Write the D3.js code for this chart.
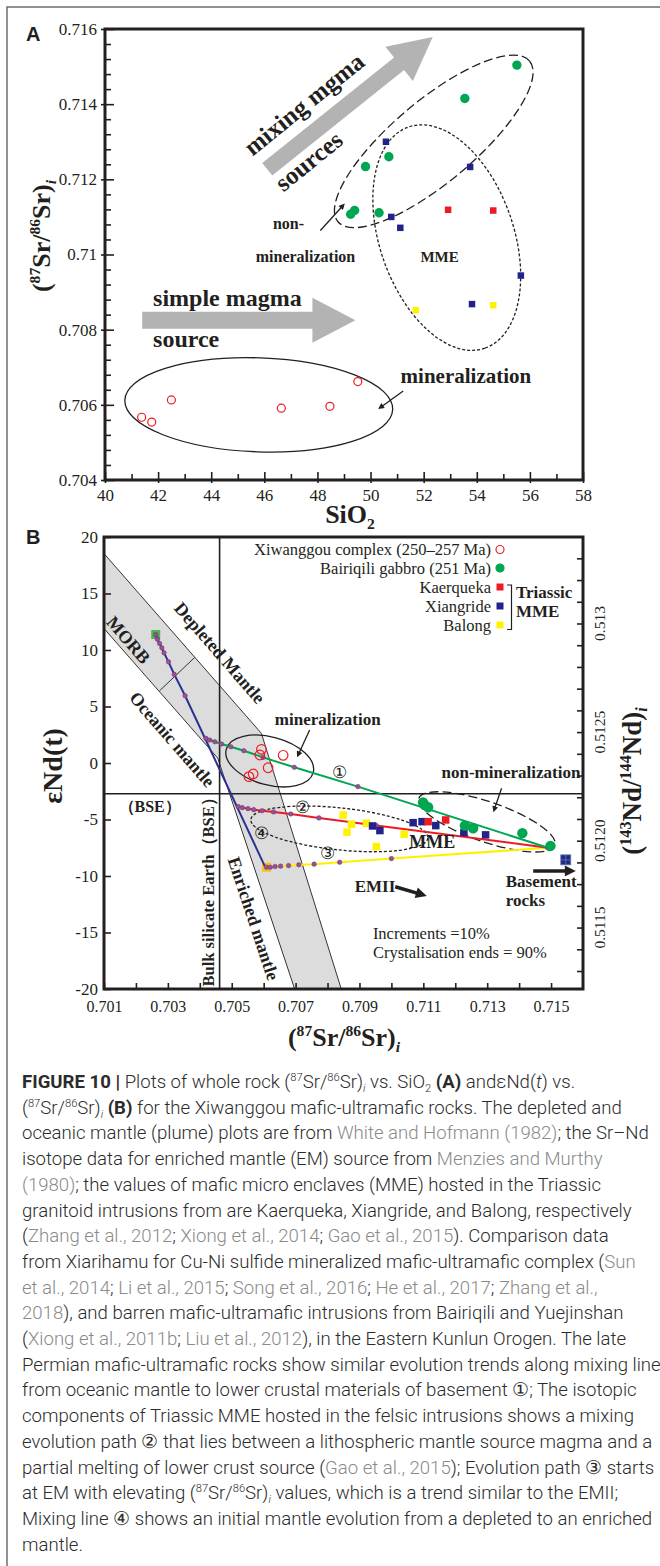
<!DOCTYPE html>
<html>
<head>
<meta charset="utf-8">
<script src="https://cdn.jsdelivr.net/npm/d3@7"></script>
<style>
body { margin: 0; background: #fff; }
svg { display: block; }
</style>
</head>
<body>
<div id="chart"></div>
<script>
// ---------- panel A : SiO2 vs (87Sr/86Sr)i ----------
var xiwanggouA = [[41.38, 0.70567], [41.76, 0.70554], [42.5, 0.70613], [46.64, 0.70591], [48.47, 0.70596], [49.52, 0.70662]];
var bairiqiliA = [[55.51, 0.71504], [53.55, 0.71415], [50.69, 0.7126], [49.81, 0.71234], [49.40, 0.71117], [49.25, 0.71107], [50.32, 0.71111]];
var kaerquekaA = [[52.92, 0.71119], [54.62, 0.71117]];
var xiangrideA = [[50.58, 0.713], [53.75, 0.71233], [50.78, 0.711], [51.12, 0.71071], [55.66, 0.70944], [53.82, 0.70868]];
var balongA = [[51.70, 0.70852], [54.62, 0.70865]];

// ---------- panel B : (87Sr/86Sr)i vs eNd(t) ----------
var xiwanggouB = [[0.70593, 1.21], [0.70588, 0.71], [0.70661, 0.68], [0.70614, -0.42], [0.70567, -0.97], [0.70554, -1.21]];
var bairiqiliB = [[0.71099, -3.5], [0.71104, -3.71], [0.71115, -3.92], [0.7123, -5.54], [0.71256, -5.77], [0.7141, -6.21], [0.71498, -7.34]];
var kaerquekaB = [[0.71115, -5.19], [0.7117, -5.04]];
var xiangrideB = [[0.70941, -5.57], [0.70964, -5.98], [0.71068, -5.28], [0.71096, -5.19], [0.71139, -5.54], [0.71227, -6.16], [0.71295, -6.36]];
var balongB = [[0.70849, -4.6], [0.70875, -5.42], [0.70861, -6.12], [0.70922, -5.33], [0.7104, -6.3], [0.70953, -7.4]];
var basementB = [[0.71546, -8.57]];

// mixing / evolution paths (points = 10% increments)
var path1 = [[0.70419, 2.18], [0.70431, 2.03], [0.70447, 1.88], [0.70468, 1.68], [0.70497, 1.44], [0.70538, 1.09], [0.70598, 0.50], [0.70696, -0.38], [0.70895, -2.09], [0.7149, -7.5]];
var path2 = [[0.7052, -3.86], [0.70533, -3.95], [0.70551, -4.04], [0.70569, -4.13], [0.70595, -4.22], [0.70631, -4.33], [0.70685, -4.51], [0.70773, -4.86], [0.70953, -5.54], [0.7149, -7.5]];
var path3 = [[0.70609, -9.22], [0.70621, -9.22], [0.70636, -9.16], [0.70653, -9.13], [0.70678, -9.08], [0.7071, -9.01], [0.70758, -8.95], [0.70838, -8.78], [0.71, -8.46], [0.7149, -7.5]];
var path4 = [[0.70262, 11.37], [0.70267, 10.96], [0.70274, 10.58], [0.70281, 10.19], [0.70288, 9.75], [0.70302, 8.95], [0.7032, 7.84], [0.70354, 5.95], [0.70603, -9.1]];
var path4Dots = path4.slice(0, 8);
var morbEnd = [0.70262, 11.37];
var emEnd = [0.70609, -9.22];

// mantle array (grey band) and the MORB / oceanic divider
var mantleBand = [[0.701, 18.53], [0.70593, 2.62], [0.70843, -20], [0.70697, -20], [0.70456, 0.44], [0.701, 11.9]];
var bandDivider = [[0.70274, 6.39], [0.70384, 9.34]];
var bseSr = 0.70462;
var bseNd = -2.72;

// tick labels
var tickAx = [40, 42, 44, 46, 48, 50, 52, 54, 56, 58];
var tickAy = [0.704, 0.706, 0.708, 0.71, 0.712, 0.714, 0.716];
var tickBx = [0.701, 0.703, 0.705, 0.707, 0.709, 0.711, 0.713, 0.715];
var tickBy = [20, 15, 10, 5, 0, -5, -10, -15, -20];
var tickBr = [0.513, 0.5125, 0.512, 0.5116];
var tickBrText = ["0.513", "0.5125", "0.5120", "0.5115"];

var captionLines = [
  "**FIGURE 10 |** Plots of whole rock (^87^Sr/^86^Sr)_i_ vs. SiO~2~ **(A)** andεNd(*t*) vs.",
  "(^87^Sr/^86^Sr)_i_ **(B)** for the Xiwanggou mafic-ultramafic rocks. The depleted and",
  "oceanic mantle (plume) plots are from [White and Hofmann (1982)]; the Sr–Nd",
  "isotope data for enriched mantle (EM) source from [Menzies and Murthy]",
  "[(1980)]; the values of mafic micro enclaves (MME) hosted in the Triassic",
  "granitoid intrusions from are Kaerqueka, Xiangride, and Balong, respectively",
  "([Zhang et al., 2012]; [Xiong et al., 2014]; [Gao et al., 2015]). Comparison data",
  "from Xiarihamu for Cu-Ni sulfide mineralized mafic-ultramafic complex ([Sun]",
  "[et al., 2014]; [Li et al., 2015]; [Song et al., 2016]; [He et al., 2017]; [Zhang et al.,]",
  "[2018]), and barren mafic-ultramafic intrusions from Bairiqili and Yuejinshan",
  "([Xiong et al., 2011b]; [Liu et al., 2012]), in the Eastern Kunlun Orogen. The late",
  "Permian mafic-ultramafic rocks show similar evolution trends along mixing line",
  "from oceanic mantle to lower crustal materials of basement ①; The isotopic",
  "components of Triassic MME hosted in the felsic intrusions shows a mixing",
  "evolution path ② that lies between a lithospheric mantle source magma and a",
  "partial melting of lower crust source ([Gao et al., 2015]); Evolution path ③ starts",
  "at EM with elevating (^87^Sr/^86^Sr)_i_ values, which is a trend similar to the EMII;",
  "Mixing line ④ shows an initial mantle evolution from a depleted to an enriched",
  "mantle."
];

var ink = "#231f20";
var red = "#ed1c24", green = "#00a651", navy = "#23228a", yellow = "#fff200";

var svg = d3.select("#chart").append("svg")
    .attr("width", 660)
    .attr("height", 1566)
    .style("font-family", "'Liberation Serif', 'Times New Roman', serif");

// figure frame (left and top only are visible)
svg.append("path").attr("d", "M7,1566V7H660").attr("fill", "none").attr("stroke", "#6d6d6d").attr("stroke-width", 1.5);

var defs = svg.append("defs");
function marker(id, len, wid) {
    defs.append("marker").attr("id", id)
        .attr("viewBox", "0 0 10 10").attr("refX", 4).attr("refY", 5)
        .attr("markerWidth", len).attr("markerHeight", wid)
        .attr("markerUnits", "userSpaceOnUse").attr("orient", "auto")
        .append("path").attr("d", "M0,0L10,5L0,10Z").attr("fill", ink);
}
marker("headS", 8, 6);
marker("headL", 15, 11);

// rich text: **bold**, ^sup^, ~sub~, _italic sub_, *italic*, [grey]
function richText(textSel, str, size) {
    var re = /(\*\*[^*]+\*\*|\^[^^]+\^|_[^_]+_|~[^~]+~|\*[^*]+\*|\[[^\]]+\])/;
    var parts = str.split(re).filter(function (p) { return p.length; });
    var shift = 0;
    parts.forEach(function (p) {
        var kind = "n", t = p;
        if (p.slice(0, 2) == "**") { kind = "b"; t = p.slice(2, -2); }
        else if (p[0] == "^") { kind = "sup"; t = p.slice(1, -1); }
        else if (p[0] == "_") { kind = "isub"; t = p.slice(1, -1); }
        else if (p[0] == "~") { kind = "sub"; t = p.slice(1, -1); }
        else if (p[0] == "*") { kind = "i"; t = p.slice(1, -1); }
        else if (p[0] == "[") { kind = "g"; t = p.slice(1, -1); }
        var target = kind == "sup" ? -0.38 * size : (kind == "sub" || kind == "isub") ? 0.22 * size : 0;
        var ts = textSel.append("tspan").text(t).attr("dy", target - shift);
        shift = target;
        if (kind == "sup" || kind == "sub" || kind == "isub") ts.style("font-size", (0.6 * size) + "px");
        if (kind == "b") ts.style("font-weight", "bold");
        if (kind == "i" || kind == "isub") ts.style("font-style", "italic");
        if (kind == "g") ts.attr("fill", "#8a8a8a");
    });
}

function bigArrow(g, p0, p1, shaft, headW, headL) {
    var dx = p1[0] - p0[0], dy = p1[1] - p0[1], L = Math.hypot(dx, dy);
    var ux = dx / L, uy = dy / L, nx = -uy, ny = ux, b = L - headL;
    var pts = [[0, -shaft / 2], [b, -shaft / 2], [b, -headW / 2], [L, 0], [b, headW / 2], [b, shaft / 2], [0, shaft / 2]]
        .map(function (q) { return [p0[0] + ux * q[0] + nx * q[1], p0[1] + uy * q[0] + ny * q[1]]; });
    g.append("polygon").attr("points", pts.join(" ")).attr("fill", "#b3b3b3");
}

function lineArrow(g, p0, p1, width, head, headLen) {
    var dx = p1[0] - p0[0], dy = p1[1] - p0[1], L = Math.hypot(dx, dy);
    var k = (L - 0.6 * headLen) / L;
    g.append("line").attr("x1", p0[0]).attr("y1", p0[1])
        .attr("x2", p0[0] + dx * k).attr("y2", p0[1] + dy * k)
        .attr("stroke", ink).attr("stroke-width", width)
        .attr("marker-end", "url(#" + head + ")");
}

function drawEllipses(g, list, sx, sy) {
    list.forEach(function (e) {
        g.append("ellipse")
            .attr("transform", "translate(" + sx(e.cx) + "," + sy(e.cy) + ") rotate(" + e.rot + ")")
            .attr("rx", e.rx).attr("ry", e.ry)
            .attr("fill", "none").attr("stroke", ink).attr("stroke-width", 1.3)
            .attr("stroke-dasharray", e.dash);
    });
}

function drawNotes(g, list, sx, sy) {
    list.forEach(function (n) {
        g.append("text")
            .attr("transform", "translate(" + sx(n.x) + "," + sy(n.y) + ") rotate(" + (n.rot || 0) + ")")
            .attr("dy", n.mid ? "0.35em" : null)
            .attr("text-anchor", n.anchor || "start")
            .style("font-size", n.size + "px")
            .style("font-weight", n.bold === false ? "normal" : "bold")
            .attr("fill", ink)
            .text(n.t);
    });
}

function drawPoints(g, data, sx, sy, kind, color, size) {
    var sel = g.append("g").selectAll(null).data(data).enter();
    if (kind == "square") {
        sel.append("rect")
            .attr("x", function (d) { return sx(d[0]) - size / 2; })
            .attr("y", function (d) { return sy(d[1]) - size / 2; })
            .attr("width", size).attr("height", size)
            .attr("fill", color);
    } else {
        sel.append("circle")
            .attr("cx", function (d) { return sx(d[0]); })
            .attr("cy", function (d) { return sy(d[1]); })
            .attr("r", size)
            .attr("fill", kind == "open" ? "none" : color)
            .attr("stroke", color).attr("stroke-width", kind == "open" ? 1.2 : 0);
    }
}

function styleAxis(sel, size) {
    sel.select(".domain").remove();
    sel.selectAll("line").attr("stroke", ink).attr("stroke-width", 1.6);
    sel.selectAll("text").attr("fill", ink).style("font-size", size + "px").style("font-family", "'Liberation Serif', serif");
}

// =================== PANEL A ===================
var xA = d3.scaleLinear().domain([40, 58]).range([105, 583]);
var yA = d3.scaleLinear().domain([0.704, 0.716]).range([480, 29]);
var gA = svg.append("g");

bigArrow(gA, [xA(46.11), yA(0.712267)], [xA(52.34), yA(0.715787)], 16, 44, 43);
bigArrow(gA, [xA(41.40), yA(0.708253)], [xA(49.43), yA(0.708253)], 17, 45, 43);

drawEllipses(gA, [
    { cx: 45.79, cy: 0.706, rx: 134, ry: 47, rot: 2, dash: null },
    { cx: 52.38, cy: 0.71301, rx: 125, ry: 41, rot: -40, dash: "9,4" },
    { cx: 52.87, cy: 0.71045, rx: 117, ry: 67, rot: 71, dash: "3,2" }
], xA, yA);

lineArrow(gA, [xA(48.11), yA(0.71064)], [xA(49.06), yA(0.71138)], 1.3, "headS", 8);
lineArrow(gA, [xA(51.23), yA(0.70637)], [xA(50.25), yA(0.70587)], 1.3, "headS", 8);

drawPoints(gA, xiwanggouA, xA, yA, "open", red, 4);
drawPoints(gA, bairiqiliA, xA, yA, "filled", green, 4.7);
drawPoints(gA, kaerquekaA, xA, yA, "square", red, 6.5);
drawPoints(gA, xiangrideA, xA, yA, "square", navy, 6.5);
drawPoints(gA, balongA, xA, yA, "square", yellow, 6.5);

drawNotes(gA, [
    { t: "mixing mgma", x: 45.55, y: 0.7126, size: 25, rot: -39 },
    { t: "sources", x: 46.72, y: 0.71165, size: 25, rot: -39 },
    { t: "simple magma", x: 41.81, y: 0.70862, size: 24 },
    { t: "source", x: 41.81, y: 0.70755, size: 24 },
    { t: "mineralization", x: 51.13, y: 0.70659, size: 21 },
    { t: "non-", x: 46.91, y: 0.71067, size: 16, anchor: "middle" },
    { t: "mineralization", x: 47.55, y: 0.70981, size: 16, anchor: "middle" },
    { t: "MME", x: 52.6, y: 0.70979, size: 15, anchor: "middle" }
], xA, yA);

// axes A
var axA = gA.append("g").attr("transform", "translate(0,480)");
axA.call(d3.axisBottom(xA).tickValues(tickAx).tickSize(-8).tickPadding(9).tickFormat(d3.format("d")));
styleAxis(axA, 17);
var axAo = gA.append("g").attr("transform", "translate(0,480)")
    .call(d3.axisBottom(xA).tickValues(tickAx).tickSize(3).tickFormat(""));
styleAxis(axAo, 17);
var axAm = gA.append("g").attr("transform", "translate(0,480)")
    .call(d3.axisBottom(xA).tickValues(d3.range(41, 58, 2)).tickSize(-6).tickFormat(""));
styleAxis(axAm, 17);

var ayA = gA.append("g").attr("transform", "translate(105,0)");
ayA.call(d3.axisLeft(yA).tickValues(tickAy).tickSize(-9).tickPadding(8).tickFormat(function (d) { return String(+d.toFixed(3)); }));
styleAxis(ayA, 17);
var ayAo = gA.append("g").attr("transform", "translate(105,0)")
    .call(d3.axisLeft(yA).tickValues(tickAy).tickSize(4).tickFormat(""));
styleAxis(ayAo, 17);
var ayAm = gA.append("g").attr("transform", "translate(105,0)")
    .call(d3.axisLeft(yA).tickValues(d3.range(0.7044, 0.716, 0.0004).filter(function (v) { return Math.abs(v * 500 - Math.round(v * 500)) > 0.01; })).tickSize(-6).tickFormat(""));
styleAxis(ayAm, 17);

gA.append("rect").attr("x", 105).attr("y", 29).attr("width", 478).attr("height", 451)
    .attr("fill", "none").attr("stroke", ink).attr("stroke-width", 3);

var tA = gA.append("text").attr("x", 350).attr("y", 523).attr("text-anchor", "middle")
    .style("font-size", "26px").style("font-weight", "bold").attr("fill", ink);
richText(tA, "SiO~2~", 26);
var tAy = gA.append("text").attr("transform", "translate(50,236) rotate(-90)").attr("text-anchor", "middle")
    .style("font-size", "26px").style("font-weight", "bold").attr("fill", ink);
richText(tAy, "(^87^Sr/^86^Sr)_i_", 26);

svg.append("text").attr("x", 26).attr("y", 41).text("A")
    .style("font-family", "'Liberation Sans', Arial, sans-serif").style("font-weight", "bold").style("font-size", "20px").attr("fill", ink);

// =================== PANEL B ===================
var xB = d3.scaleLinear().domain([0.701, 0.716]).range([104, 583]);
var yB = d3.scaleLinear().domain([-20, 20]).range([989, 537]);
var yBr = d3.scaleLinear().domain([0.5113172, 0.5133982]).range([989, 537]);
var gB = svg.append("g");

var lineB = d3.line().x(function (d) { return xB(d[0]); }).y(function (d) { return yB(d[1]); });

gB.append("path").datum(mantleBand).attr("d", function (d) { return lineB(d) + "Z"; })
    .attr("fill", "#dcdcdc").attr("stroke", ink).attr("stroke-width", 0.9);
gB.append("path").datum(bandDivider).attr("d", lineB).attr("stroke", ink).attr("stroke-width", 0.9);

// BSE reference lines
gB.append("line").attr("x1", xB(bseSr)).attr("x2", xB(bseSr)).attr("y1", yB(20)).attr("y2", yB(-20))
    .attr("stroke", ink).attr("stroke-width", 1.6);
gB.append("line").attr("x1", xB(0.701)).attr("x2", xB(0.716)).attr("y1", yB(bseNd)).attr("y2", yB(bseNd))
    .attr("stroke", ink).attr("stroke-width", 1.6);

drawEllipses(gB, [
    { cx: 0.70619, cy: 0.18, rx: 45, ry: 24, rot: 15, dash: null },
    { cx: 0.71299, cy: -5.21, rx: 72, ry: 20, rot: 19, dash: "9,4" },
    { cx: 0.70837, cy: -5.83, rx: 89, ry: 21, rot: 6, dash: "3,2" }
], xB, yB);

// end-member squares
drawPoints(gB, [morbEnd], xB, yB, "square", "#4cb848", 9);
drawPoints(gB, [emEnd], xB, yB, "square", "#f9c21b", 9);

[[path3, "#fff000"], [path2, red], [path1, green], [path4, "#2b3192"]].forEach(function (p) {
    gB.append("path").datum(p[0]).attr("d", lineB).attr("fill", "none")
        .attr("stroke", p[1]).attr("stroke-width", 2);
});
[path1, path2, path3, path4Dots].forEach(function (p) {
    gB.append("g").selectAll(null).data(p).enter().append("circle")
        .attr("cx", function (d) { return xB(d[0]); })
        .attr("cy", function (d) { return yB(d[1]); })
        .attr("r", 2.3).attr("fill", "#9a4f98").attr("stroke", "#5e2d5c").attr("stroke-width", 0.4);
});

drawPoints(gB, xiwanggouB, xB, yB, "open", red, 4.8);
drawPoints(gB, balongB, xB, yB, "square", yellow, 7.5);
drawPoints(gB, xiangrideB, xB, yB, "square", navy, 7.5);
drawPoints(gB, kaerquekaB, xB, yB, "square", red, 7.5);
drawPoints(gB, bairiqiliB, xB, yB, "filled", green, 5.2);

// basement rocks symbol
basementB.forEach(function (d) {
    var cx = xB(d[0]), cy = yB(d[1]);
    gB.append("rect").attr("x", cx - 5).attr("y", cy - 5).attr("width", 10).attr("height", 10)
        .attr("fill", "#1f2a78").attr("stroke", "#6a78c0").attr("stroke-width", 0.8);
    gB.append("path").attr("d", "M" + (cx - 5) + "," + cy + "H" + (cx + 5) + "M" + cx + "," + (cy - 5) + "V" + (cy + 5))
        .attr("stroke", "#6a78c0").attr("stroke-width", 0.8);
});

lineArrow(gB, [xB(0.70744), yB(2.92)], [xB(0.70703), yB(0.42)], 1.3, "headS", 8);
lineArrow(gB, [xB(0.71345), yB(-2.24)], [xB(0.71318), yB(-4.45)], 1.3, "headS", 8);
lineArrow(gB, [xB(0.71012), yB(-10.95)], [xB(0.71118), yB(-11.82)], 3.5, "headL", 15);
lineArrow(gB, [xB(0.71444), yB(-9.55)], [xB(0.71585), yB(-9.55)], 3.5, "headL", 15);

drawNotes(gB, [
    { t: "Depleted  Mantle", x: 0.70463, y: 9.75, size: 18, rot: 49, anchor: "middle", mid: true },
    { t: "MORB", x: 0.70177, y: 10.9, size: 18, rot: 49, anchor: "middle", mid: true },
    { t: "Oceanic  mantle", x: 0.70314, y: 2.1, size: 18, rot: 49, anchor: "middle", mid: true },
    { t: "Enriched  mantle", x: 0.70569, y: -13.76, size: 18, rot: 71.7, anchor: "middle", mid: true },
    { t: "Bulk silicate Earth（BSE）", x: 0.70444, y: -11.05, size: 16.5, rot: -90, anchor: "middle" },
    { t: "（BSE）", x: 0.70243, y: -4.3, size: 16, anchor: "middle" },
    { t: "mineralization", x: 0.70635, y: 3.36, size: 17 },
    { t: "non-mineralization", x: 0.71157, y: -1.33, size: 17 },
    { t: "MME", x: 0.71128, y: -7.54, size: 18, anchor: "middle" },
    { t: "EMII", x: 0.70885, y: -11.46, size: 17 },
    { t: "Basement", x: 0.71358, y: -10.93, size: 17 },
    { t: "rocks", x: 0.71358, y: -12.64, size: 17 },
    { t: "Increments =10%", x: 0.70942, y: -15.58, size: 16.5, bold: false },
    { t: "Crystalisation ends = 90%", x: 0.70942, y: -17.26, size: 16.5, bold: false },
    { t: "①", x: 0.70838, y: -0.77, size: 17, anchor: "middle", mid: true, bold: false },
    { t: "②", x: 0.70723, y: -3.86, size: 17, anchor: "middle", mid: true, bold: false },
    { t: "③", x: 0.70801, y: -7.95, size: 17, anchor: "middle", mid: true, bold: false },
    { t: "④", x: 0.70593, y: -6.16, size: 17, anchor: "middle", mid: true, bold: false }
], xB, yB);

// legend
var legend = [
    { t: "Xiwanggou complex (250–257 Ma)", kind: "open", color: red },
    { t: "Bairiqili gabbro (251 Ma)", kind: "filled", color: green },
    { t: "Kaerqueka", kind: "square", color: red },
    { t: "Xiangride", kind: "square", color: navy },
    { t: "Balong", kind: "square", color: yellow }
];
var legY = [555, 573.5, 592.5, 611.5, 630.5];
var gL = gB.append("g");
legend.forEach(function (d, i) {
    gL.append("text").attr("x", 491).attr("y", legY[i]).attr("text-anchor", "end")
        .style("font-size", "16.5px").attr("fill", ink).text(d.t);
    var cy = legY[i] - 5.5;
    if (d.kind == "square") {
        gL.append("rect").attr("x", 496.5).attr("y", cy - 3.5).attr("width", 7).attr("height", 7).attr("fill", d.color);
    } else {
        gL.append("circle").attr("cx", 500).attr("cy", cy).attr("r", 4)
            .attr("fill", d.kind == "open" ? "none" : d.color).attr("stroke", d.color).attr("stroke-width", 1.2);
    }
});
gL.append("path").attr("d", "M507,585H511.5V629.5H507").attr("fill", "none").attr("stroke", ink).attr("stroke-width", 1.2);
gL.append("text").attr("x", 516).attr("y", 597.5).style("font-size", "17px").style("font-weight", "bold").attr("fill", ink).text("Triassic");
gL.append("text").attr("x", 516).attr("y", 617).style("font-size", "17px").style("font-weight", "bold").attr("fill", ink).text("MME");

// axes B
var axB = gB.append("g").attr("transform", "translate(0,989)");
axB.call(d3.axisBottom(xB).tickValues(tickBx).tickSize(-6).tickPadding(12).tickFormat(d3.format(".3f")));
styleAxis(axB, 16);
var axBm = gB.append("g").attr("transform", "translate(0,989)")
    .call(d3.axisBottom(xB).tickValues(d3.range(0.702, 0.7155, 0.002)).tickSize(-6).tickFormat(""));
styleAxis(axBm, 16);

var ayB = gB.append("g").attr("transform", "translate(104,0)");
ayB.call(d3.axisLeft(yB).tickValues(tickBy).tickSize(-7).tickPadding(6).tickFormat(d3.format("d")));
styleAxis(ayB, 17);
ayB.selectAll("text").text(function (d) { return String(d); });

var ayBr = gB.append("g").attr("transform", "translate(583,0)");
ayBr.call(d3.axisRight(yBr).tickValues(d3.range(0.5114, 0.51335, 0.0001)).tickSize(-6).tickFormat(""));
styleAxis(ayBr, 15);
tickBr.forEach(function (v, i) {
    gB.append("text").attr("transform", "translate(605," + yBr(v) + ") rotate(-90)")
        .attr("text-anchor", "middle").style("font-size", "15.5px").attr("fill", ink).text(tickBrText[i]);
});

gB.append("rect").attr("x", 104).attr("y", 537).attr("width", 479).attr("height", 452)
    .attr("fill", "none").attr("stroke", ink).attr("stroke-width", 3);

var tBx = gB.append("text").attr("x", 344).attr("y", 1046).attr("text-anchor", "middle")
    .style("font-size", "26px").style("font-weight", "bold").attr("fill", ink);
richText(tBx, "(^87^Sr/^86^Sr)_i_", 26);
var tBy = gB.append("text").attr("transform", "translate(62,766) rotate(-90)").attr("text-anchor", "middle")
    .style("font-size", "28px").style("font-weight", "bold").attr("fill", ink);
richText(tBy, "εNd(t)", 28);
var tBr = gB.append("text").attr("transform", "translate(641,781) rotate(-90)").attr("text-anchor", "middle")
    .style("font-size", "27px").style("font-weight", "bold").attr("fill", ink);
richText(tBr, "(^143^Nd/^144^Nd)_i_", 27);

svg.append("text").attr("x", 26).attr("y", 544).text("B")
    .style("font-family", "'Liberation Sans', Arial, sans-serif").style("font-weight", "bold").style("font-size", "20px").attr("fill", ink);

// =================== CAPTION ===================
var gC = svg.append("g").style("font-family", "Roboto, 'Liberation Sans', sans-serif")
    .style("font-weight", 300).attr("fill", "#2b2b2b");
var probe = gC.append("text").style("font-size", "16px").text(captionLines[5]);
var capSize = 16 * 610 / probe.node().getComputedTextLength();
probe.remove();
captionLines.forEach(function (line, i) {
    var t = gC.append("text").attr("x", 22).attr("y", 1088 + i * 25.7).style("font-size", capSize + "px");
    richText(t, line, capSize);
});
</script>
</body>
</html>
